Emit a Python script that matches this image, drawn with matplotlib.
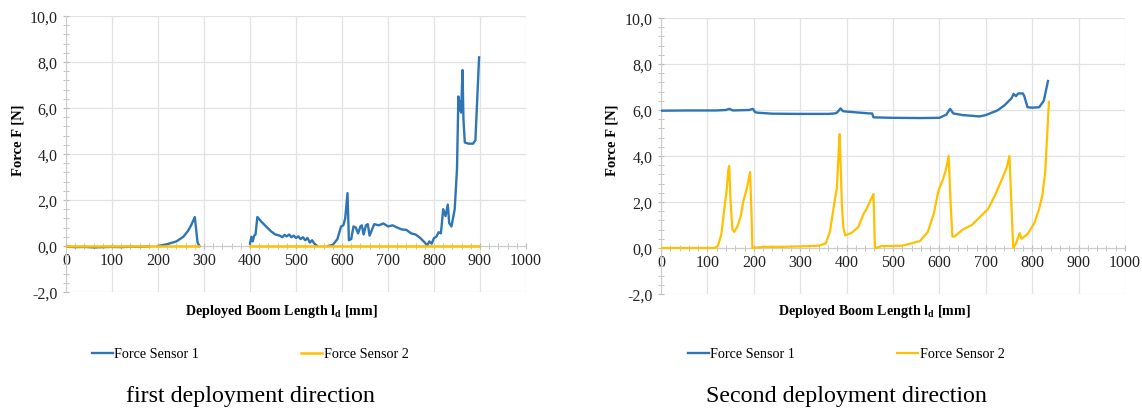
import numpy as np
import matplotlib.pyplot as plt
from matplotlib.ticker import MultipleLocator, FuncFormatter

plt.rcParams['font.family'] = ['Liberation Serif', 'DejaVu Serif']
plt.rcParams['mathtext.fontset'] = 'custom'
plt.rcParams['mathtext.rm'] = 'Liberation Serif'
plt.rcParams['mathtext.bf'] = 'Liberation Serif:bold'

BLUE = '#2E75B6'
YELLOW = '#FFC000'

# ---- first deployment direction: sensor 1 as (length, force) segments ----
s1a_seg1 = [(0, -0.03), (20, -0.05), (40, -0.04), (60, -0.06), (80, -0.05),
            (100, -0.04), (120, -0.05), (140, -0.03), (160, -0.04), (180, -0.02)]
s1a_seg2 = [(200, 0.0), (220, 0.08), (240, 0.2), (255, 0.4), (265, 0.65),
            (272, 0.9), (280, 1.26), (283, 0.7), (286, 0.15), (290, 0.0)]
s1a_seg3 = [(400, 0.1), (403, 0.4), (406, 0.2), (409, 0.45), (412, 0.5),
            (416, 1.26), (425, 1.05), (435, 0.85), (445, 0.65), (455, 0.5),
            (465, 0.45), (470, 0.38), (475, 0.48), (480, 0.42), (485, 0.5),
            (490, 0.38), (495, 0.45), (500, 0.35), (505, 0.42), (510, 0.3),
            (515, 0.38), (520, 0.25), (525, 0.35), (530, 0.15), (535, 0.25),
            (540, 0.1), (545, 0.02)]
s1a_seg4 = [(570, 0.0), (580, 0.05), (590, 0.3), (598, 0.85), (603, 0.9),
            (607, 1.2), (612, 2.3), (615, 0.25), (620, 0.3), (625, 0.85),
            (630, 0.8), (635, 0.55), (640, 0.85), (643, 0.9), (647, 0.5),
            (652, 0.9), (656, 0.95), (660, 0.45), (670, 0.95), (680, 0.9),
            (690, 0.98), (700, 0.85), (710, 0.9), (720, 0.8), (730, 0.72),
            (740, 0.7), (750, 0.55), (760, 0.5), (770, 0.35), (780, 0.15),
            (785, 0.02), (790, 0.2), (795, 0.1), (800, 0.35), (805, 0.4),
            (810, 0.6), (815, 0.55), (820, 1.6), (825, 1.3), (830, 1.8),
            (833, 1.0), (838, 0.85), (845, 1.6), (850, 3.35), (853, 6.5),
            (855, 5.9), (857, 6.3), (859, 5.8), (862, 7.65), (864, 5.5),
            (867, 4.5), (875, 4.45), (885, 4.45), (890, 4.6), (898, 8.2)]
s2a_seg1 = [(0, 0.0), (100, 0.0), (200, 0.0), (290, 0.0)]
s2a_seg2 = [(400, 0.0), (600, 0.0), (800, 0.0), (898, 0.0)]

# ---- second deployment direction ----
s1b = [(0, 5.97), (60, 5.98), (120, 5.98), (140, 6.0), (147, 6.05), (155, 5.98),
       (190, 6.0), (198, 6.05), (203, 5.9), (210, 5.88), (240, 5.84), (300, 5.83),
       (360, 5.83), (375, 5.85), (380, 5.9), (387, 6.07), (392, 5.95), (400, 5.93),
       (450, 5.85), (455, 5.85), (458, 5.68), (500, 5.66), (560, 5.65), (600, 5.66),
       (615, 5.8), (623, 6.05), (630, 5.85), (650, 5.78), (687, 5.72), (700, 5.78),
       (715, 5.9), (725, 5.98), (740, 6.2), (755, 6.5), (760, 6.7), (765, 6.6),
       (770, 6.72), (780, 6.72), (783, 6.6), (790, 6.12), (800, 6.1), (815, 6.12),
       (825, 6.4), (834, 7.26)]
s2b = [(0, 0.0), (60, 0.0), (115, 0.0), (123, 0.1), (130, 0.6), (137, 1.8),
       (142, 2.6), (145, 3.4), (147, 3.57), (150, 2.0), (154, 0.8), (158, 0.7),
       (165, 0.95), (172, 1.4), (177, 2.0), (185, 2.6), (192, 3.3), (195, 1.5),
       (197, 0.0), (220, 0.05), (260, 0.05), (300, 0.07), (340, 0.1), (355, 0.2),
       (364, 0.7), (374, 2.0), (379, 2.6), (383, 4.2), (385, 4.95), (390, 1.8),
       (393, 0.9), (397, 0.55), (410, 0.65), (425, 0.9), (437, 1.5), (443, 1.7),
       (452, 2.1), (458, 2.35), (461, 0.0), (463, 0.0), (475, 0.08), (520, 0.1),
       (558, 0.3), (575, 0.7), (588, 1.5), (598, 2.5), (608, 3.0), (614, 3.4),
       (620, 4.0), (624, 2.0), (628, 0.5), (633, 0.5), (650, 0.8), (670, 1.0),
       (690, 1.4), (705, 1.7), (720, 2.3), (735, 3.0), (745, 3.5), (751, 4.0),
       (755, 2.0), (759, 0.0), (765, 0.2), (773, 0.65), (777, 0.4), (790, 0.6),
       (805, 1.1), (815, 1.7), (822, 2.3), (828, 3.3), (832, 4.8), (836, 6.35)]


def join(*segs):
    xs, ys = [], []
    for seg in segs:
        if xs:
            xs.append(np.nan)
            ys.append(np.nan)
        xs += [p[0] for p in seg]
        ys += [p[1] for p in seg]
    return xs, ys


fig = plt.figure(figsize=(11.42, 4.14), dpi=100)
ax1 = fig.add_axes([66/1142, 1-293/414, 460/1142, 276/414])
ax2 = fig.add_axes([661/1142, 1-295/414, 464/1142, 276/414])

comma = FuncFormatter(lambda v, p: ('%.1f' % v).replace('.', ','))

for ax in (ax1, ax2):
    ax.set_xlim(0, 1000)
    ax.set_ylim(-2, 10)
    ax.xaxis.set_major_locator(MultipleLocator(100))
    ax.xaxis.set_minor_locator(MultipleLocator(20))
    ax.yaxis.set_major_locator(MultipleLocator(2))
    ax.yaxis.set_minor_locator(MultipleLocator(0.4))
    ax.yaxis.set_major_formatter(comma)
    ax.grid(True, which='major', color='#e2e2e2', linewidth=0.9)
    ax.set_axisbelow(True)
    for s in ('top', 'right'):
        ax.spines[s].set_visible(False)
    ax.spines['bottom'].set_position(('data', 0))
    ax.spines['bottom'].set_color('#cccccc')
    ax.spines['left'].set_color('#cccccc')
    ax.tick_params(which='both', direction='inout', colors='#bbbbbb',
                   labelcolor='#222222', labelsize=11.5)
    ax.tick_params(which='major', length=5)
    ax.tick_params(which='minor', length=4)
    ax.tick_params(axis='x', pad=2)

x, y = join(s1a_seg1, s1a_seg2, s1a_seg3, s1a_seg4)
ax1.plot(x, y, color=BLUE, lw=1.7, label='Force Sensor 1', zorder=3)
x, y = join(s2a_seg1, s2a_seg2)
ax1.plot(x, y, color=YELLOW, lw=1.8, label='Force Sensor 2', zorder=4)
x, y = join(s1b)
ax2.plot(x, y, color=BLUE, lw=1.7, label='Force Sensor 1', zorder=3)
x, y = join(s2b)
ax2.plot(x, y, color=YELLOW, lw=1.6, label='Force Sensor 2', zorder=4)

for ax, yx, xx, cx in ((ax1, 18, 281, 250), (ax2, 612, 874, 846)):
    fig.text(yx/1142, 1-140/414, 'Force F [N]', rotation=90, ha='center',
             va='center', fontsize=10.5, fontweight='bold')
    fig.text(xx/1142, 1-312/414, r'Deployed Boom Length l$_\mathbf{d}$ [mm]',
             ha='center', va='center', fontsize=10.2, fontweight='bold')
    h, l = ax.get_legend_handles_labels()
    fig.legend(h, l, loc='center', bbox_to_anchor=(cx/1142, 1-355/414), ncol=2,
               frameon=False, fontsize=10.2, handlelength=1.5, handletextpad=0.1,
               columnspacing=7.2)

fig.text(250/1142, 1-397/414, 'first deployment direction', ha='center',
         va='center', fontsize=17.3)
fig.text(846/1142, 1-397/414, 'Second deployment direction', ha='center',
         va='center', fontsize=17.3)

fig.savefig('out.png', dpi=100, facecolor='white')
